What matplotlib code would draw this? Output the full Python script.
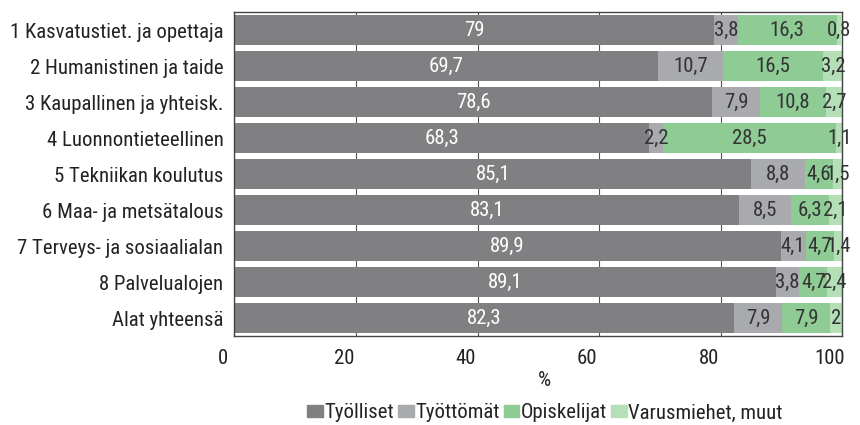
import os
import matplotlib
matplotlib.use("Agg")
import matplotlib.pyplot as plt
import matplotlib.transforms as mtransforms
from matplotlib.patches import Patch
from matplotlib import font_manager
from matplotlib.font_manager import FontProperties

categories = ["1 Kasvatustiet. ja opettaja", "2 Humanistinen ja taide", "3 Kaupallinen ja yhteisk.",
              "4 Luonnontieteellinen", "5 Tekniikan koulutus", "6 Maa- ja metsätalous",
              "7 Terveys- ja sosiaalialan", "8 Palvelualojen", "Alat yhteensä"]
tyolliset = [79, 69.7, 78.6, 68.3, 85.1, 83.1, 89.9, 89.1, 82.3]
tyottomat = [3.8, 10.7, 7.9, 2.2, 8.8, 8.5, 4.1, 3.8, 7.9]
opiskelijat = [16.3, 16.5, 10.8, 28.5, 4.6, 6.3, 4.7, 4.7, 7.9]
varusmiehet = [0.8, 3.2, 2.7, 1.1, 1.5, 2.1, 1.4, 2.4, 2]
series_names = ["Työlliset", "Työttömät", "Opiskelijat", "Varusmiehet, muut"]
colors = ["#808083", "#a9aaad", "#8ecb95", "#b4dfb7"]
text_colors = ["white", "#333333", "#333333", "#333333"]
xticks = [0, 20, 40, 60, 80, 100]

# pick a condensed font if one is installed
prefs = ['NotoSans-CondensedLight', 'NotoSans-Condensed.', 'NotoSans-Condensed',
         'OpenSans_Condensed-Regular', 'OpenSans-CondensedLight', 'RobotoCondensed-Regular',
         'RobotoCondensed-Light', 'LiberationSansNarrow-Regular', 'DejaVuSansCondensed.']
files = [f.fname for f in font_manager.fontManager.ttflist]
chosen = None
for p in prefs:
    for fn in files:
        if os.path.basename(fn).startswith(p) or os.path.basename(fn) == p + 'ttf':
            chosen = fn
            break
    if chosen:
        break

def fp(size):
    if chosen:
        return FontProperties(fname=chosen, size=size)
    return FontProperties(family=['Liberation Sans', 'DejaVu Sans'], size=size)

fig = plt.figure(figsize=(8.6, 4.25), dpi=100)
renderer = fig.canvas.get_renderer()
probe = fig.text(0, 0, categories[0], fontproperties=fp(10))
w = probe.get_window_extent(renderer).width
probe.remove()
FS = 10 * 211.0 / w
FS = min(FS, 15.5)

ax = fig.add_axes([234.5/860, 1 - 336/425, (842-234.5)/860, (336-12)/425])

y = list(range(len(categories)))
left = [0.0]*len(categories)
for vals, col, tc in zip([tyolliset, tyottomat, opiskelijat, varusmiehet], colors, text_colors):
    ax.barh(y, vals, left=left, color=col, height=0.86, zorder=2)
    for yi, (l, v) in enumerate(zip(left, vals)):
        ax.text(l + v/2, yi, f"{v:g}".replace('.', ','), ha='center', va='center',
                color=tc, fontproperties=fp(FS), zorder=3)
    left = [a + b for a, b in zip(left, vals)]

ax.set_xlim(0, 100)
ax.set_ylim(len(categories) - 0.5, -0.5)
ax.set_yticks(y)
ax.set_yticklabels(categories, color="#222222")
for lab in ax.get_yticklabels():
    lab.set_fontproperties(fp(FS))
ax.set_xticks(xticks)
ax.set_xticklabels([str(t) for t in xticks], color="#222222")
for lab in ax.get_xticklabels():
    lab.set_fontproperties(fp(FS))
ax.tick_params(axis='y', length=0, pad=8)
ax.tick_params(axis='x', length=0, pad=9)
offset = mtransforms.ScaledTranslation(-0.12, 0, fig.dpi_scale_trans)
for lab in ax.get_xticklabels():
    lab.set_transform(lab.get_transform() + offset)
ax.grid(axis='x', color="#555555", linewidth=0.8, zorder=0)
ax.set_axisbelow(True)
for s in ax.spines.values():
    s.set_color("#444444")
    s.set_linewidth(1.0)

fig.text(544/860, 1 - 380/425, "%", ha='center', va='center', color="#222222",
         fontproperties=fp(FS))

handles = [Patch(color=c, label=n) for c, n in zip(colors, series_names)]
fig.legend(handles=handles, loc='center', bbox_to_anchor=(545/860, 1 - 413/425), ncol=4,
           frameon=False, prop=fp(FS), handlelength=0.75, handleheight=0.55,
           handletextpad=0.08, columnspacing=0.2, labelcolor="#222222",
           borderpad=0, borderaxespad=0)

fig.savefig("out.png", dpi=100)
